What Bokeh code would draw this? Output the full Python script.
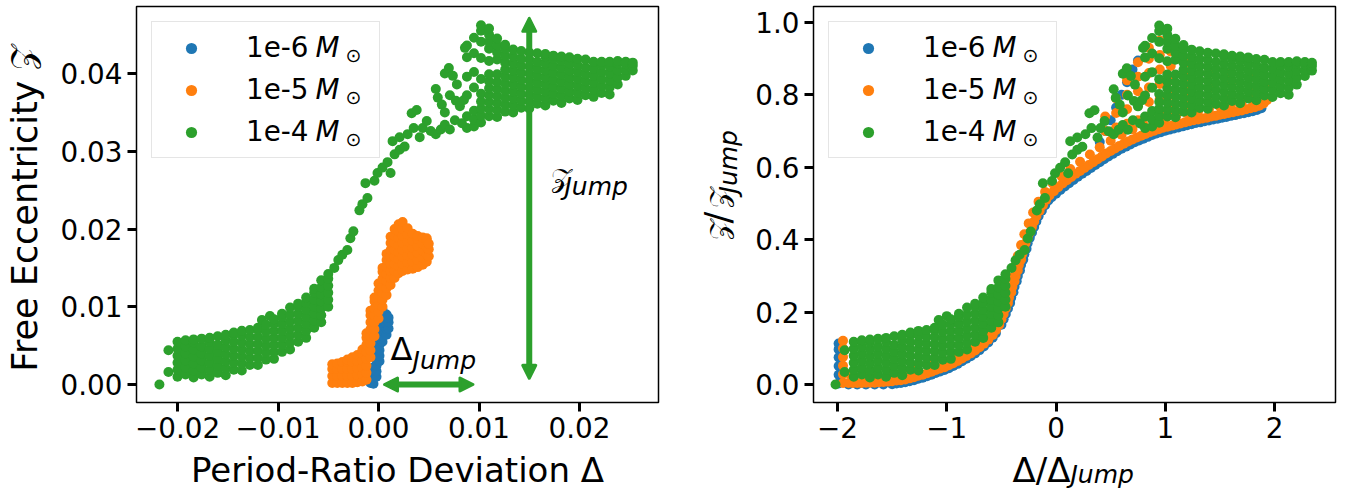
import math
from bokeh.plotting import figure
from bokeh.models import (Range1d, FixedTicker, Legend, LegendItem, Label, Arrow, NormalHead,
                          CustomJSTickFormatter)
from bokeh.layouts import row, column
from bokeh.embed import file_html
from bokeh.resources import INLINE

FONT = "DejaVu Sans"
BLUE, ORANGE, GREEN = "#1f77b4", "#ff7f0e", "#2ca02c"
SERIES = ["1e-6", "1e-5", "1e-4"]

# ---------------- data ----------------
# Left panel: columns of (Delta, [Z values]) for the 1e-4 run
GREEN_L_COLS = [
    (-0.0218, [0.0000]),
    (-0.0209, [0.0016, 0.0044]),
    (-0.0200, [0.0010, 0.0019, 0.0028, 0.0037, 0.0046, 0.0055]),
    (-0.0192, [0.0013, 0.0022, 0.0031, 0.0040, 0.0049, 0.0057]),
    (-0.0184, [0.0009, 0.0018, 0.0027, 0.0036, 0.0045, 0.0054, 0.0058]),
    (-0.0176, [0.0013, 0.0022, 0.0031, 0.0040, 0.0049, 0.0059]),
    (-0.0168, [0.0010, 0.0019, 0.0028, 0.0037, 0.0046, 0.0055, 0.0060]),
    (-0.0160, [0.0015, 0.0024, 0.0033, 0.0042, 0.0051, 0.0062]),
    (-0.0152, [0.0012, 0.0021, 0.0030, 0.0039, 0.0048, 0.0057, 0.0064]),
    (-0.0144, [0.0019, 0.0028, 0.0037, 0.0046, 0.0055, 0.0064, 0.0067]),
    (-0.0136, [0.0018, 0.0027, 0.0036, 0.0045, 0.0054, 0.0063, 0.0069]),
    (-0.0128, [0.0025, 0.0034, 0.0043, 0.0052, 0.0061, 0.0070]),
    (-0.0120, [0.0025, 0.0034, 0.0043, 0.0052, 0.0061, 0.0070, 0.0073]),
    (-0.0116, [0.0083]),
    (-0.0112, [0.0032, 0.0041, 0.0050, 0.0059, 0.0068, 0.0077]),
    (-0.0108, [0.0088]),
    (-0.0104, [0.0033, 0.0042, 0.0051, 0.0060, 0.0069, 0.0078, 0.0084]),
    (-0.0096, [0.0042, 0.0051, 0.0060, 0.0069, 0.0078, 0.0087, 0.0091]),
    (-0.0088, [0.0045, 0.0054, 0.0063, 0.0072, 0.0081, 0.0090, 0.0099]),
    (-0.0080, [0.0055, 0.0064, 0.0073, 0.0082, 0.0091, 0.0100, 0.0104]),
    (-0.0072, [0.0060, 0.0069, 0.0078, 0.0087, 0.0096, 0.0105, 0.0112]),
    (-0.0064, [0.0073, 0.0082, 0.0091, 0.0100, 0.0109, 0.0118, 0.0123]),
    (-0.0057, [0.0080, 0.0089, 0.0098, 0.0107, 0.0116, 0.0125, 0.0134]),
    (-0.0050, [0.0100, 0.0109, 0.0118, 0.0127, 0.0136, 0.0142]),
    (0.0088, [0.0330, 0.0345, 0.0372, 0.0396, 0.0421, 0.0436]),
    (0.0095, [0.0332, 0.0341, 0.0352, 0.0382, 0.0402, 0.0426, 0.0446]),
    (0.0102, [0.0337, 0.0346, 0.0355, 0.0364, 0.0374, 0.0393, 0.0420, 0.0441, 0.0455, 0.0462]),
    (0.0110, [0.0345, 0.0354, 0.0363, 0.0372, 0.0381, 0.0390, 0.0399, 0.0416, 0.0432, 0.0441, 0.0450, 0.0458]),
    (0.0118, [0.0344, 0.0353, 0.0362, 0.0371, 0.0380, 0.0389, 0.0399, 0.0418, 0.0427, 0.0436, 0.0445]),
    (0.0126, [0.0351, 0.0360, 0.0369, 0.0378, 0.0387, 0.0396, 0.0405, 0.0414, 0.0423, 0.0432, 0.0437]),
    (0.0134, [0.0350, 0.0359, 0.0368, 0.0377, 0.0386, 0.0395, 0.0404, 0.0413, 0.0422, 0.0431]),
    (0.0142, [0.0356, 0.0365, 0.0374, 0.0383, 0.0392, 0.0401, 0.0410, 0.0419, 0.0429]),
    (0.0150, [0.0355, 0.0364, 0.0373, 0.0382, 0.0391, 0.0400, 0.0409, 0.0418, 0.0427]),
    (0.0158, [0.0361, 0.0370, 0.0379, 0.0388, 0.0397, 0.0406, 0.0415, 0.0426]),
    (0.0166, [0.0359, 0.0368, 0.0377, 0.0386, 0.0395, 0.0404, 0.0413, 0.0422, 0.0425]),
    (0.0174, [0.0365, 0.0374, 0.0383, 0.0392, 0.0401, 0.0410, 0.0419, 0.0423]),
    (0.0182, [0.0362, 0.0371, 0.0380, 0.0389, 0.0398, 0.0407, 0.0416, 0.0422]),
    (0.0190, [0.0368, 0.0377, 0.0386, 0.0395, 0.0404, 0.0413, 0.0421]),
    (0.0198, [0.0366, 0.0375, 0.0384, 0.0393, 0.0402, 0.0411, 0.0419]),
    (0.0206, [0.0372, 0.0381, 0.0390, 0.0399, 0.0408, 0.0418]),
    (0.0214, [0.0370, 0.0379, 0.0388, 0.0397, 0.0406, 0.0415]),
    (0.0222, [0.0375, 0.0384, 0.0393, 0.0402, 0.0411, 0.0415]),
    (0.0230, [0.0373, 0.0382, 0.0391, 0.0400, 0.0409, 0.0415]),
    (0.0238, [0.0386, 0.0395, 0.0404, 0.0413, 0.0416]),
    (0.0246, [0.0397, 0.0405, 0.0412, 0.0415]),
    (0.0253, [0.0404, 0.0410, 0.0414]),
]
# sparse points of the 1e-4 run between its two dense clouds
GREEN_L_SPARSE = [
    (-0.0044, 0.0150), (-0.0040, 0.0160), (-0.0036, 0.0167), (-0.0031, 0.0173),
    (-0.0028, 0.0188), (-0.0025, 0.0197), (-0.0019, 0.0224), (-0.0016, 0.0232),
    (-0.0011, 0.0240), (-0.0013, 0.0259), (-0.0004, 0.0262), (-0.0001, 0.0272),
    (0.0004, 0.0279), (0.0009, 0.0286), (0.0012, 0.0272), (0.0016, 0.0296),
    (0.0014, 0.0313), (0.0021, 0.0302), (0.0026, 0.0306), (0.0021, 0.0318),
    (0.0029, 0.0322), (0.0033, 0.0349), (0.0038, 0.0353), (0.0035, 0.0330),
    (0.0041, 0.0318), (0.0044, 0.0330), (0.0048, 0.0339), (0.0052, 0.0326),
    (0.0057, 0.0322), (0.0062, 0.0328), (0.0066, 0.0334), (0.0057, 0.0380),
    (0.0059, 0.0369), (0.0063, 0.0360), (0.0066, 0.0350), (0.0066, 0.0400),
    (0.0070, 0.0407), (0.0074, 0.0397), (0.0078, 0.0386), (0.0071, 0.0372),
    (0.0077, 0.0365), (0.0081, 0.0358), (0.0085, 0.0366), (0.0076, 0.0340),
    (0.0083, 0.0336), (0.0071, 0.0328), (0.0086, 0.0433),
]
ORANGE_L_COLS = [
    (-0.0046, [0.0002, 0.0011, 0.0020, 0.0026]),
    (-0.0041, [0.0002, 0.0011, 0.0020, 0.0027]),
    (-0.0036, [0.0002, 0.0011, 0.0020, 0.0029]),
    (-0.0031, [0.0002, 0.0011, 0.0020, 0.0029, 0.0032]),
    (-0.0026, [0.0002, 0.0011, 0.0020, 0.0029, 0.0035]),
    (-0.0021, [0.0003, 0.0012, 0.0021, 0.0030, 0.0038]),
    (-0.0016, [0.0004, 0.0013, 0.0022, 0.0031, 0.0040, 0.0045]),
    (-0.0012, [0.0006, 0.0015, 0.0024, 0.0033, 0.0042, 0.0051, 0.0060, 0.0066]),
    (-0.0008, [0.0035, 0.0044, 0.0053, 0.0062, 0.0071, 0.0080, 0.0089, 0.0095]),
    (-0.0004, [0.0062, 0.0071, 0.0080, 0.0089, 0.0098, 0.0107, 0.0112]),
    (0.0000, [0.0085, 0.0094, 0.0103, 0.0112, 0.0121, 0.0130]),
    (0.0004, [0.0100, 0.0109, 0.0118, 0.0127, 0.0136, 0.0145, 0.0150]),
    (0.0008, [0.0115, 0.0124, 0.0133, 0.0142, 0.0151, 0.0160, 0.0168]),
    (0.0012, [0.0128, 0.0137, 0.0146, 0.0155, 0.0164, 0.0173, 0.0182, 0.0190]),
    (0.0016, [0.0137, 0.0146, 0.0155, 0.0164, 0.0173, 0.0182, 0.0191, 0.0200]),
    (0.0020, [0.0143, 0.0152, 0.0161, 0.0170, 0.0179, 0.0188, 0.0197, 0.0206]),
    (0.0024, [0.0146, 0.0155, 0.0164, 0.0173, 0.0182, 0.0191, 0.0200, 0.0209]),
    (0.0029, [0.0148, 0.0157, 0.0166, 0.0175, 0.0184, 0.0193, 0.0201]),
    (0.0034, [0.0149, 0.0158, 0.0167, 0.0176, 0.0185, 0.0194]),
    (0.0039, [0.0151, 0.0160, 0.0169, 0.0178, 0.0187, 0.0191]),
    (0.0044, [0.0154, 0.0163, 0.0172, 0.0181, 0.0189]),
    (0.0048, [0.0158, 0.0167, 0.0176, 0.0185, 0.0188]),
    (0.0050, [0.0165, 0.0174, 0.0181]),
]
BLUE_L_COLS = [
    (-0.0008, [0.0002, 0.0008]),
    (-0.0005, [0.0001, 0.0008, 0.0015, 0.0022]),
    (-0.0002, [0.0010, 0.0017, 0.0024, 0.0031, 0.0038, 0.0045]),
    (0.0001, [0.0030, 0.0037, 0.0044, 0.0051, 0.0058, 0.0065, 0.0072, 0.0079, 0.0086, 0.0093, 0.0097]),
    (0.0004, [0.0055, 0.0062, 0.0069, 0.0076, 0.0083, 0.0090, 0.0096]),
    (0.0008, [0.0064, 0.0071, 0.0078, 0.0085, 0.0090]),
    (0.0010, [0.0072, 0.0080, 0.0086]),
]
# jump sizes of the 1e-4 run (the right panel shows Delta/Delta_Jump and Z/Z_Jump)
DELTA_JUMP_4 = 0.0108
Z_JUMP_4 = 0.0466

# Right panel: normalised points of the 1e-5 run (edges that show around the 1e-4 cloud)
ORANGE_R_PTS = [
    (-1.95, 0.004), (-1.95, 0.028), (-1.95, 0.052), (-1.95, 0.076), (-1.95, 0.100), (-1.95, 0.121),
    (-1.90, 0.004), (-1.86, 0.004), (-1.82, 0.004), (-1.78, 0.004), (-1.74, 0.005), (-1.70, 0.005),
    (-1.66, 0.005), (-1.62, 0.006), (-1.58, 0.007), (-1.54, 0.008), (-1.50, 0.009), (-1.46, 0.011),
    (-1.42, 0.012), (-1.38, 0.014), (-1.34, 0.017), (-1.30, 0.020), (-1.26, 0.024), (-1.22, 0.027),
    (-1.18, 0.031), (-1.14, 0.035), (-1.10, 0.040), (-1.06, 0.044), (-1.02, 0.048), (-0.98, 0.053),
    (-0.94, 0.059), (-0.90, 0.065), (-0.86, 0.072), (-0.82, 0.079), (-0.78, 0.086), (-0.74, 0.094),
    (-0.70, 0.103), (-0.66, 0.113), (-0.62, 0.124), (-0.58, 0.137), (-0.55, 0.150), (-0.52, 0.165),
    (-0.50, 0.180), (-0.48, 0.195), (-0.46, 0.210), (-0.44, 0.225), (-0.43, 0.240), (-0.41, 0.255),
    (-0.40, 0.270), (-0.38, 0.285), (-0.37, 0.300), (-0.35, 0.315), (-0.34, 0.330), (-0.32, 0.345),
    (-0.31, 0.360), (-0.29, 0.375), (-0.28, 0.390), (-0.26, 0.405), (-0.24, 0.420), (-0.22, 0.435),
    (-0.20, 0.450), (-0.18, 0.465), (-0.15, 0.480), (-0.12, 0.495), (-0.09, 0.510), (-0.06, 0.522),
    (-0.02, 0.534), (0.02, 0.545), (0.06, 0.555), (0.10, 0.564), (0.14, 0.573), (0.18, 0.582),
    (0.22, 0.590), (0.26, 0.598), (0.30, 0.606), (0.34, 0.614), (0.38, 0.622), (0.42, 0.630),
    (0.46, 0.638), (0.50, 0.645), (0.54, 0.652), (0.58, 0.659), (0.62, 0.665), (0.66, 0.671),
    (0.70, 0.677), (0.74, 0.682), (0.78, 0.687), (0.82, 0.692), (0.86, 0.697), (0.90, 0.701),
    (0.94, 0.705), (0.98, 0.709), (1.02, 0.712), (1.06, 0.715), (1.10, 0.718), (1.14, 0.721),
    (1.18, 0.724), (1.22, 0.727), (1.26, 0.730), (1.30, 0.732), (1.34, 0.735), (1.38, 0.737),
    (1.42, 0.740), (1.46, 0.742), (1.50, 0.745), (1.54, 0.747), (1.58, 0.750), (1.62, 0.752),
    (1.66, 0.755), (1.70, 0.757), (1.74, 0.760), (1.78, 0.763), (1.82, 0.766), (1.86, 0.770),
    (1.90, 0.776), (1.93, 0.785),
    (-1.88, 0.028), (-1.76, 0.028), (-1.64, 0.029), (-1.52, 0.032), (-1.40, 0.037), (-1.28, 0.046),
    (-1.16, 0.057), (-1.04, 0.069), (-0.92, 0.083), (-0.80, 0.100), (-0.70, 0.120), (-0.62, 0.145),
    (-0.56, 0.175), (-0.51, 0.205), (-0.47, 0.235), (-0.44, 0.265), (-0.41, 0.295), (-0.38, 0.325),
    (-0.35, 0.355), (-0.32, 0.385), (-0.29, 0.415), (-0.25, 0.445), (-0.21, 0.475), (-0.16, 0.505),
    (-0.10, 0.532), (-0.03, 0.555), (0.05, 0.575), (0.13, 0.595), (0.22, 0.615), (0.31, 0.635),
    (0.40, 0.655), (0.50, 0.673), (0.60, 0.690), (0.70, 0.705), (0.80, 0.717), (0.90, 0.727),
    (1.00, 0.735), (1.10, 0.742), (1.20, 0.749), (1.30, 0.755), (1.40, 0.761), (1.50, 0.767),
    (1.60, 0.772), (1.70, 0.778), (1.80, 0.785), (1.90, 0.800),
    (0.45, 0.70), (0.45, 0.74), (0.55, 0.71), (0.55, 0.75), (0.55, 0.79),
    (0.65, 0.72), (0.65, 0.76), (0.65, 0.80), (0.65, 0.84),
    (0.75, 0.73), (0.75, 0.77), (0.75, 0.81), (0.75, 0.85), (0.75, 0.89),
    (0.85, 0.74), (0.85, 0.78), (0.85, 0.82), (0.85, 0.86), (0.85, 0.90), (0.85, 0.93),
    (0.95, 0.75), (0.95, 0.79), (0.95, 0.83), (0.95, 0.87), (0.95, 0.91), (0.95, 0.95),
    (1.05, 0.76), (1.05, 0.80), (1.05, 0.84), (1.05, 0.88), (1.05, 0.92),
    (1.20, 0.77), (1.20, 0.81), (1.20, 0.85), (1.20, 0.89),
    (1.40, 0.78), (1.40, 0.82), (1.40, 0.86), (1.60, 0.79), (1.60, 0.83), (1.60, 0.86),
    (1.80, 0.81), (1.80, 0.85), (1.92, 0.83),
]
# Right panel: normalised points of the 1e-6 run
BLUE_R_PTS = [
    (-1.99, 0.003), (-1.99, 0.027), (-1.99, 0.051), (-1.99, 0.075), (-1.99, 0.097), (-1.99, 0.113),
    (-1.90, 0.000), (-1.82, 0.000), (-1.74, 0.000), (-1.66, 0.000), (-1.58, 0.000), (-1.50, 0.001),
    (-1.46, 0.003), (-1.42, 0.004), (-1.38, 0.006), (-1.34, 0.009), (-1.30, 0.012), (-1.26, 0.016),
    (-1.22, 0.019), (-1.18, 0.023), (-1.14, 0.027), (-1.10, 0.032), (-1.06, 0.036), (-1.02, 0.040),
    (-0.98, 0.045), (-0.94, 0.051), (-0.90, 0.057), (-0.86, 0.064), (-0.82, 0.071), (-0.78, 0.078),
    (-0.74, 0.086), (-0.70, 0.095), (-0.66, 0.105), (-0.62, 0.116), (-0.58, 0.129), (-0.55, 0.142),
    (-0.50, 0.165), (-0.48, 0.180), (-0.46, 0.195), (-0.44, 0.210), (-0.42, 0.225), (-0.41, 0.240),
    (-0.39, 0.255), (-0.38, 0.270), (-0.36, 0.285), (-0.35, 0.300), (-0.33, 0.315), (-0.32, 0.330),
    (-0.30, 0.345), (-0.29, 0.360), (-0.27, 0.375), (-0.26, 0.390), (-0.24, 0.405), (-0.22, 0.420),
    (-0.20, 0.435), (-0.18, 0.450), (-0.16, 0.465), (-0.13, 0.480), (-0.10, 0.495), (-0.07, 0.508),
    (-0.04, 0.517), (0.00, 0.527), (0.04, 0.537), (0.08, 0.547), (0.12, 0.556), (0.16, 0.565),
    (0.20, 0.574), (0.24, 0.582), (0.28, 0.590), (0.32, 0.598), (0.36, 0.606), (0.40, 0.614),
    (0.44, 0.622), (0.48, 0.630), (0.52, 0.637), (0.56, 0.644), (0.60, 0.651), (0.64, 0.657),
    (0.68, 0.663), (0.72, 0.669), (0.76, 0.674), (0.80, 0.679), (0.84, 0.684), (0.88, 0.689),
    (0.92, 0.693), (0.96, 0.697), (1.00, 0.701), (1.04, 0.704), (1.08, 0.707), (1.12, 0.710),
    (1.16, 0.713), (1.20, 0.716), (1.24, 0.719), (1.28, 0.722), (1.32, 0.724), (1.36, 0.727),
    (1.40, 0.729), (1.44, 0.732), (1.48, 0.734), (1.52, 0.737), (1.56, 0.739), (1.60, 0.742),
    (1.64, 0.744), (1.68, 0.747), (1.72, 0.749), (1.76, 0.752), (1.80, 0.755), (1.84, 0.758),
    (1.88, 0.763),
    (0.40, 0.670), (0.45, 0.700), (0.50, 0.730), (0.55, 0.765), (0.60, 0.800), (0.65, 0.835),
    (0.70, 0.870), (0.75, 0.895),
]

LEFT_X_TICKS = [-0.02, -0.01, 0.0, 0.01, 0.02]
LEFT_X_LABELS = ["\u22120.02", "\u22120.01", "0.00", "0.01", "0.02"]
LEFT_Y_TICKS = [0.0, 0.01, 0.02, 0.03, 0.04]
LEFT_Y_LABELS = ["0.00", "0.01", "0.02", "0.03", "0.04"]
RIGHT_X_TICKS = [-2, -1, 0, 1, 2]
RIGHT_X_LABELS = ["\u22122", "\u22121", "0", "1", "2"]
RIGHT_Y_TICKS = [0.0, 0.2, 0.4, 0.6, 0.8, 1.0]
RIGHT_Y_LABELS = ["0.0", "0.2", "0.4", "0.6", "0.8", "1.0"]

# annotation arrows (data coordinates of the left panel)
Z_ARROW = (0.015, 0.0008, 0.015, 0.0471)
D_ARROW = (0.0006, 0.0, 0.0094, 0.0)

ZCAL = "\U0001D4B5"   # script capital Z
DELTA = "\u0394"


def cols_xy(cols):
    xs, ys = [], []
    for x, yl in cols:
        for y in yl:
            xs.append(x)
            ys.append(y)
    return xs, ys


def pts_xy(pts):
    return [p[0] for p in pts], [p[1] for p in pts]


gx, gy = cols_xy(GREEN_L_COLS)
sx_, sy_ = pts_xy(GREEN_L_SPARSE)
gx += sx_
gy += sy_
ox, oy = cols_xy(ORANGE_L_COLS)
bx, by = cols_xy(BLUE_L_COLS)
gxr = [v / DELTA_JUMP_4 for v in gx]
gyr = [v / Z_JUMP_4 for v in gy]
oxr, oyr = pts_xy(ORANGE_R_PTS)
bxr, byr = pts_xy(BLUE_R_PTS)

# ---------------- layout constants (pixels) ----------------
FRAME_W, FRAME_H = 522, 396
TOP_H = 449          # height of the row holding the two plots
BOT_H = 489 - TOP_H  # strip holding the x-axis titles
YS1_W, P1_W, YS2_W, P2_W = 50, 638, 57, 600
TICK_FONT = "27.8px"


def formatter(tvals, tlabels):
    return CustomJSTickFormatter(args=dict(tv=tvals, tl=tlabels), code="""
        for (let i = 0; i < tv.length; i++) {
            if (Math.abs(tv[i] - tick) < 1e-9) return tl[i];
        }
        return "";
    """)


def make_fig(xr, yr, width, left, right, xt, xl, yt, yl):
    p = figure(width=width, height=TOP_H,
               x_range=Range1d(*xr), y_range=Range1d(*yr),
               output_backend="svg", toolbar_location=None,
               min_border_left=left, min_border_right=right,
               min_border_top=6, min_border_bottom=TOP_H - 6 - FRAME_H)
    p.xgrid.visible = False
    p.ygrid.visible = False
    p.background_fill_color = "white"
    p.border_fill_color = "white"
    p.outline_line_color = "black"
    p.outline_line_width = 1.5
    p.outline_line_alpha = 1.0
    for ax, t, l in ((p.xaxis[0], xt, xl), (p.yaxis[0], yt, yl)):
        ax.ticker = FixedTicker(ticks=t)
        ax.formatter = formatter(t, l)
        ax.axis_line_color = None
        ax.major_tick_out = 9
        ax.major_tick_in = 0
        ax.major_tick_line_width = 3
        ax.major_tick_line_color = "black"
        ax.minor_tick_line_color = None
        ax.major_label_text_font = FONT
        ax.major_label_text_font_size = TICK_FONT
        ax.major_label_text_color = "black"
        ax.major_label_standoff = 5
    return p


def strip(w, h):
    s = figure(width=w, height=h, x_range=Range1d(0, w), y_range=Range1d(0, h),
               output_backend="svg", toolbar_location=None,
               x_axis_location=None, y_axis_location=None, min_border=0)
    s.outline_line_color = None
    s.xgrid.visible = False
    s.ygrid.visible = False
    s.background_fill_color = "white"
    s.border_fill_color = "white"
    return s


def label(p, text, x, y, size, units="data", **kw):
    kw.setdefault("text_baseline", "middle")
    kw.setdefault("text_align", "left")
    p.add_layout(Label(x=x, y=y, x_units=units, y_units=units, text=text,
                       text_font=FONT, text_font_size=f"{size}px", text_color="black", **kw))


def add_legend(p, rends):
    items = [LegendItem(label=s, renderers=[r]) for s, r in zip(SERIES, rends)]
    lg = Legend(items=items, location="top_left", margin=15, padding=9, spacing=9,
                glyph_width=60, glyph_height=28, label_height=33, label_width=124,
                label_standoff=25, label_text_font=FONT, label_text_font_size=TICK_FONT,
                label_text_color="black", border_line_color="#cccccc", border_line_width=1.5,
                background_fill_color=None)
    p.add_layout(lg)
    for i in range(3):
        label(p, "M", 179, FRAME_H - (40.5 + 42 * i), 27.8, units="screen",
              text_font_style="italic", level="overlay")
        label(p, "\u2299", 209, FRAME_H - (48.5 + 42 * i), 19, units="screen", level="overlay")


# ---------------- left panel ----------------
p1 = make_fig((-0.02408, 0.02786), (-0.002315, 0.04862), P1_W, 86, P1_W - 86 - FRAME_W,
              LEFT_X_TICKS, LEFT_X_LABELS, LEFT_Y_TICKS, LEFT_Y_LABELS)
r1b = p1.scatter(bx, by, size=10, color=BLUE, line_color=None)
r1o = p1.scatter(ox, oy, size=10, color=ORANGE, line_color=None)
r1g = p1.scatter(gx, gy, size=10, color=GREEN, line_color=None)

for (xs, ys, xe, ye) in (Z_ARROW, D_ARROW):
    p1.add_layout(Arrow(x_start=xs, y_start=ys, x_end=xe, y_end=ye,
                        line_color=GREEN, line_width=6,
                        start=NormalHead(size=13, fill_color=GREEN, line_color=GREEN,
                                         line_width=3, line_join="round"),
                        end=NormalHead(size=13, fill_color=GREEN, line_color=GREEN,
                                       line_width=3, line_join="round")))

label(p1, ZCAL, 0.01721, 0.02666, 27)
label(p1, "Jump", 0.01721, 0.02666, 25, x_offset=13, y_offset=-9.55, text_font_style="italic")
label(p1, DELTA, 0.0012, 0.00451, 32)
label(p1, "Jump", 0.0012, 0.00451, 25, x_offset=22, y_offset=-11.45, text_font_style="italic")
add_legend(p1, [r1b, r1o, r1g])

# ---------------- right panel ----------------
p2 = make_fig((-2.22, 2.558), (-0.0497, 1.044), P2_W, 68, P2_W - 68 - FRAME_W,
              RIGHT_X_TICKS, RIGHT_X_LABELS, RIGHT_Y_TICKS, RIGHT_Y_LABELS)
r2b = p2.scatter(bxr, byr, size=10, color=BLUE, line_color=None)
r2o = p2.scatter(oxr, oyr, size=10, color=ORANGE, line_color=None)
r2g = p2.scatter(gxr, gyr, size=10, color=GREEN, line_color=None)
add_legend(p2, [r2b, r2o, r2g])

# ---------------- axis titles (pixel coordinates inside their strips) ----------------
ROT = math.pi / 2
ys1 = strip(YS1_W, TOP_H)
label(ys1, "Free Eccentricity", 24.75, 35, 35, angle=ROT)
label(ys1, ZCAL, 22, 377, 33, angle=ROT)

ys2 = strip(YS2_W, TOP_H)
label(ys2, ZCAL, 30, TOP_H - 264.3, 27, angle=ROT)
label(ys2, "/", 29.75, TOP_H - 246, 35, angle=ROT)
label(ys2, ZCAL, 30, TOP_H - 229, 27, angle=ROT)
label(ys2, "Jump", 40.25, TOP_H - 212, 25, angle=ROT, text_font_style="italic")

xs_ = strip(1345, BOT_H)
label(xs_, "Period-Ratio Deviation " + DELTA, 397, 489 - 469.0, 34, text_align="center")
label(xs_, DELTA + "/" + DELTA, 1012, 489 - 469.0, 34)
label(xs_, "Jump", 1070, 489 - 474.35, 25, text_font_style="italic")

layout = column(row(ys1, p1, ys2, p2), xs_)
open("out.html", "w").write(file_html(layout, INLINE))
